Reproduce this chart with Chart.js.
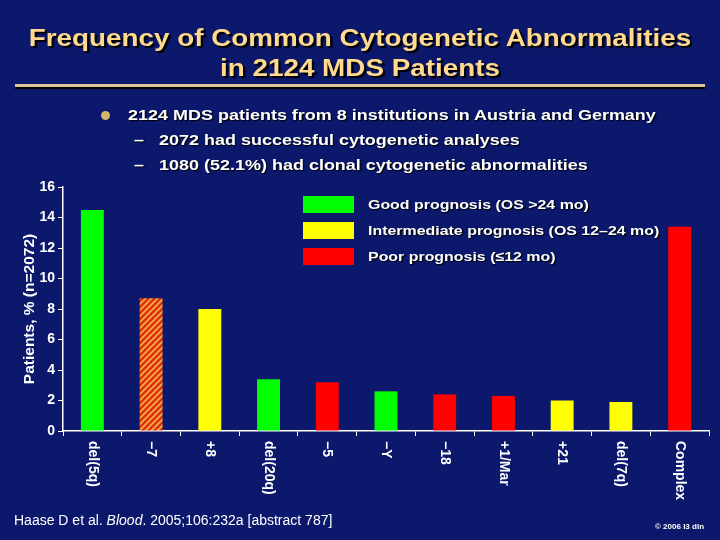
<!DOCTYPE html>
<html>
<head>
<meta charset="utf-8">
<script src="https://cdn.jsdelivr.net/npm/chart.js@4"></script>
<style>
  body { margin:0; background:#0b186c; font-family:"Liberation Sans", Arial, sans-serif; }
  #wrap { position:relative; width:720px; height:540px; overflow:hidden; background:#0b186c; }
  #chart { position:absolute; left:0; top:0; }
  .title { position:absolute; left:0; width:720px; text-align:center; color:#ffd98e; font-weight:bold; font-size:24px; text-shadow:2px 2px 1px #000; transform:scaleX(1.16); transform-origin:360px 0; }
  .rule { position:absolute; left:15px; top:84px; width:690px; height:3px; background:#d9c99b; box-shadow:0 2px 1px #000; }
  .txt { position:absolute; color:#fff; font-weight:bold; font-size:15.5px; text-shadow:1px 1px 1px #000; white-space:nowrap; transform:scaleX(1.16); transform-origin:0 0; }
  .dot { position:absolute; width:9px; height:9px; border-radius:50%; background:#d6b46a; }
  .lg { position:absolute; left:303px; width:51px; height:17px; }
  .lt { position:absolute; left:368px; color:#fff; font-weight:bold; font-size:13.5px; white-space:nowrap; text-shadow:1px 1px 1px #000; transform:scaleX(1.18); transform-origin:0 0; }
  .foot { position:absolute; left:14px; top:512px; color:#fff; font-size:14px; }
  .copy { position:absolute; left:655px; top:522px; color:#fff; font-size:8px; font-weight:bold; }
</style>
</head>
<body>
<div id="wrap">
  <canvas id="chart" width="720" height="540"></canvas>
  <div class="title" style="top:24px;">Frequency of Common Cytogenetic Abnormalities</div>
  <div class="title" style="top:54px;">in 2124 MDS Patients</div>
  <div class="rule"></div>
  <div class="dot" style="left:101px; top:111px;"></div>
  <div class="txt" style="left:128px; top:106px;">2124 MDS patients from 8 institutions in Austria and Germany</div>
  <div class="txt" style="left:134px; top:131px;">–&nbsp;&nbsp;&nbsp;2072 had successful cytogenetic analyses</div>
  <div class="txt" style="left:134px; top:156px;">–&nbsp;&nbsp;&nbsp;1080 (52.1%) had clonal cytogenetic abnormalities</div>
  <div class="lg" style="top:196px; background:#00ff00;"></div>
  <div class="lg" style="top:222px; background:#ffff00;"></div>
  <div class="lg" style="top:248px; background:#ff0000;"></div>
  <div class="lt" style="top:197px;">Good prognosis (OS &gt;24 mo)</div>
  <div class="lt" style="top:223px;">Intermediate prognosis (OS 12–24 mo)</div>
  <div class="lt" style="top:249px;">Poor prognosis (≤12 mo)</div>
  <div class="foot">Haase D et al. <i>Blood</i>. 2005;106:232a [abstract 787]</div>
  <div class="copy">© 2006 I3 dln</div>
</div>
<script>
const categories = ["del(5q)", "\u22127", "+8", "del(20q)", "\u22125", "\u2212Y", "\u221218", "+1/Mar", "+21", "del(7q)", "Complex"];
const values = [14.5, 8.7, 8.0, 3.4, 3.2, 2.6, 2.4, 2.3, 2.0, 1.9, 13.4];
// prognosis group per bar: good, intermediate, poor, mixed (hatched)
const groups = ["good", "mixed", "int", "good", "poor", "good", "poor", "poor", "int", "int", "poor"];
const yTicks = [0, 2, 4, 6, 8, 10, 12, 14, 16];

function hatch() {
  const c = document.createElement("canvas");
  c.width = 6; c.height = 6;
  const g = c.getContext("2d");
  g.fillStyle = "#e0300e";
  g.fillRect(0, 0, 6, 6);
  g.strokeStyle = "#f2b24a";
  g.lineWidth = 1.6;
  g.beginPath();
  g.moveTo(-1, 7); g.lineTo(7, -1);
  g.moveTo(-4, 4); g.lineTo(4, -4);
  g.moveTo(2, 10); g.lineTo(10, 2);
  g.stroke();
  return document.getElementById("chart").getContext("2d").createPattern(c, "repeat");
}

const palette = { good: "#00ff00", int: "#ffff00", poor: "#ff0000", mixed: hatch() };

const xLabels = {
  id: "xLabels",
  afterDraw(chart) {
    const ctx = chart.ctx, xs = chart.scales.x;
    ctx.save();
    ctx.fillStyle = "#fff";
    ctx.font = "bold 14px 'Liberation Sans', Arial, sans-serif";
    ctx.textAlign = "left";
    ctx.textBaseline = "middle";
    categories.forEach((lab, i) => {
      ctx.save();
      ctx.translate(xs.getPixelForValue(i), 441);
      ctx.rotate(Math.PI / 2);
      ctx.fillText(lab, 0, 0);
      ctx.restore();
    });
    ctx.restore();
  }
};

new Chart("chart", {
  type: "bar",
  data: {
    labels: categories,
    datasets: [{
      data: values,
      backgroundColor: groups.map(g => palette[g]),
      barPercentage: 0.39,
      categoryPercentage: 1
    }]
  },
  plugins: [xLabels],
  options: {
    responsive: false,
    animation: false,
    layout: { padding: { top: 187, right: 11, left: 0, bottom: 0 } },
    plugins: { legend: { display: false }, tooltip: { enabled: false } },
    scales: {
      x: {
        afterFit: s => { s.height = 109; },
        grid: { drawOnChartArea: false, color: "#fff", tickLength: 5, offset: true },
        border: { color: "#fff", width: 1.5 },
        ticks: { color: "rgba(0,0,0,0)", maxRotation: 0, autoSkip: false }
      },
      y: {
        min: 0, max: 16,
        afterFit: s => { s.width = 63; },
        afterBuildTicks: s => { s.ticks = yTicks.map(v => ({ value: v })); },
        grid: { drawOnChartArea: false, color: "#fff", tickLength: 5 },
        border: { color: "#fff", width: 1.5 },
        ticks: { color: "#fff", padding: 3, font: { family: "'Liberation Sans', Arial", weight: "bold", size: 14 } },
        title: { display: true, text: "Patients, % (n=2072)", color: "#fff", padding: { top: 20, bottom: 0 },
                 font: { family: "'Liberation Sans', Arial", weight: "bold", size: 15.5 } }
      }
    }
  }
});
</script>
</body>
</html>
